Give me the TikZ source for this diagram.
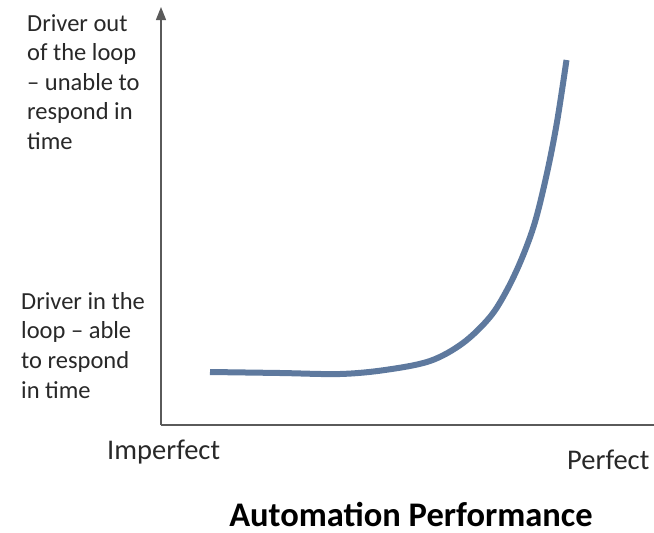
\documentclass[tikz,border=0pt]{standalone}
\usepackage{fontspec}
\setmainfont{Carlito}
\usetikzlibrary{arrows.meta}
\definecolor{curveblue}{RGB}{94,121,158}
\definecolor{axisgray}{RGB}{90,90,90}
\definecolor{labelgray}{RGB}{40,40,40}
\tikzset{
  axisline/.style={draw=axisgray, line width=1.4pt},
  sidelabel/.style={inner sep=0pt, anchor=north west, align=left, text=labelgray,
    font=\fontsize{24.5}{29.6}\selectfont},
  ticklabel/.style={inner sep=0pt, anchor=base west, text=labelgray,
    font=\fontsize{28.5}{32}\selectfont},
  titlelabel/.style={inner sep=0pt, anchor=base, text=black, text depth=0pt,
    font=\bfseries\fontsize{34.5}{38}\selectfont},
  trend/.style={draw=curveblue, line width=6pt, line cap=butt, line join=round}
}
\begin{document}
\begin{tikzpicture}[x=1pt, y=-1pt]
  \useasboundingbox (0,0) rectangle (654,533);
  % axes
  \coordinate (origin) at (161,425);
  \coordinate (ytop) at (161,7);
  \coordinate (xend) at (654,425);
  \draw[axisline, -{Triangle[length=13pt, width=10pt]}] (origin) -- (ytop);
  \draw[axisline] (origin) -- (xend);
  % response curve
  \draw[trend] plot[smooth, tension=0.55] coordinates {
    (210,372) (280,373) (340,374) (385,370) (430,361) (463,343)
    (490,317) (507,290) (522,258) (535,222) (547,173) (557,122) (566.5,60)};
  % vertical axis labels
  \node[sidelabel] (outloop) at (27,14) {Driver out\\of the loop\\– unable to\\respond in\\time};
  \node[sidelabel] (inloop) at (21,292) {Driver in the\\loop – able\\to respond\\in time};
  % horizontal axis labels
  \node[ticklabel] (imperfect) at (107,459) {Imperfect};
  \node[ticklabel] (perfect) at (567,469) {Perfect};
  \node[titlelabel] (title) at (411,526) {Automation Performance};
\end{tikzpicture}
\end{document}
